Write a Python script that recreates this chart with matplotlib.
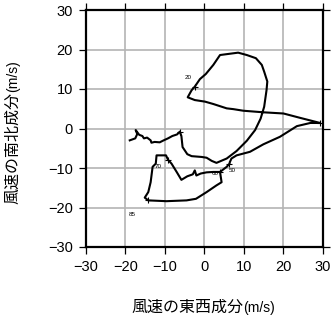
import matplotlib
matplotlib.use("Agg")
import matplotlib.pyplot as plt
import numpy as np

# Hodograph data (u: east-west, v: north-south) in m/s
u = [-18.9, -17.5, -17.0, -17.4, -16.5, -15.7, -15.3, -14.5, -13.6, -13.4, -12.6, -11.3,
     -10.3, -9.2, -8.1, -6.9, -6.2, -5.8, -5.5, -4.3, -3.2, -0.7, 0.6, 1.9, 3.1,
     5.7, 8.2, 10.8, 12.9, 14.3, 15.2, 15.8, 16.0, 15.2, 14.6, 13.1, 10.8, 8.6, 4.0,
     2.3, 0.4, -1.1, -2.4, -3.2, -4.2, -2.4, 0.2, 2.3, 5.7, 7.4, 9.9, 15.0, 20.1,
     24.3, 29.4, 26.9, 23.5, 19.2, 15.0, 11.6, 8.2, 6.9, 6.5, 6.4, 5.7, 4.0,
     2.3, 0.6, -0.9, -2.0, -2.4, -2.9, -4.3, -5.8, -7.0, -8.3, -9.2, -9.7, -12.1,
     -12.3, -13.1, -13.6, -14.2, -15.1, -14.2, -9.6, -4.5, -2.1, 0.6, 3.1, 4.4, 4.0]
v = [-3.0, -2.5, -1.4, -0.4, -1.6, -1.9, -2.5, -2.3, -3.0, -3.6, -3.4, -3.5,
     -3.0, -2.5, -1.9, -1.5, -0.8, -1.9, -4.7, -6.5, -7.0, -7.2, -7.4, -8.2, -8.7,
     -7.6, -5.7, -3.1, -0.4, 2.5, 5.5, 9.7, 11.9, 14.4, 16.1, 17.8, 18.6, 19.2, 18.6,
     16.1, 13.8, 12.5, 10.6, 9.7, 7.9, 7.2, 6.8, 6.2, 5.1, 4.9, 4.5, 4.1, 3.8,
     2.7, 1.4, 1.4, 0.6, -2.1, -4.0, -5.9, -6.8, -7.6, -8.5, -8.9, -9.7, -11.0,
     -11.0, -11.1, -11.4, -11.9, -10.6, -11.6, -12.1, -13.0, -11.0, -8.9, -7.9, -6.8, -6.8,
     -8.9, -9.7, -13.6, -16.1, -17.5, -18.2, -18.4, -18.2, -17.8, -16.1, -14.4, -13.6, -11.0]

# time labels
label_text = ["20", "50", "60", "70", "85"]
label_u = [-4.1, 7.0, 2.7, -11.7, -18.2]
label_v = [12.9, -10.6, -11.4, -9.7, -21.7]

# marked time points (small ticks on the curve)
mark_u = [-6.2, -2.4, 29.4, 6.4, 4.0, -9.2, -14.2]
mark_v = [-0.8, 10.6, 1.4, -8.9, -11.0, -7.9, -18.2]

ticks = [-30, -20, -10, 0, 10, 20, 30]

W, H = 332, 319
fig = plt.figure(figsize=(W / 100, H / 100), dpi=100)
ax = fig.add_axes([86 / W, (H - 247) / H, 236.5 / W, 237 / H])

ax.set_xlim(-30, 30)
ax.set_ylim(-30, 30)
ax.set_xticks(ticks)
ax.set_yticks(ticks)
ax.grid(True, color="#b4b4b4", linewidth=1.2)
ax.set_axisbelow(True)

ax.plot(u, v, color="black", linewidth=1.5, solid_joinstyle="round")
ax.plot(mark_u, mark_v, linestyle="none", marker="+", markersize=4,
        color="black", markeredgewidth=0.8)
for t, x, y in zip(label_text, label_u, label_v):
    ax.text(x, y, t, fontsize=4.5, ha="center", va="center",
            family="Liberation Sans")

for s in ax.spines.values():
    s.set_linewidth(1.6)
    s.set_color("black")
ax.tick_params(direction="out", length=5, width=0.9, top=True, right=True,
               labelsize=10.5, pad=4.5)
for lab in ax.get_xticklabels() + ax.get_yticklabels():
    lab.set_family("Liberation Sans")

jp = ["Noto Sans CJK JP", "DejaVu Sans"]
fig.canvas.draw()
r = fig.canvas.get_renderer()

def width_px(s, size, fam):
    t = fig.text(0, 0, s, fontsize=size, family=fam)
    w = t.get_window_extent(r).width
    t.remove()
    return w

w1 = width_px("風速の東西成分", 11.5, jp)
w2 = width_px("(m/s)", 10, ["Liberation Sans"])
cx = 203
x0 = cx - (w1 + w2) / 2
yb = H - 312
fig.text(x0 / W, yb / H, "風速の東西成分", fontsize=11.5, family=jp,
         ha="left", va="baseline")
fig.text((x0 + w1) / W, yb / H, "(m/s)", fontsize=10, family="Liberation Sans",
         ha="left", va="baseline")

w1y = width_px("風速の南北成分", 11.5, jp)
cy = H - 132.5
y0 = cy - (w1y + w2) / 2
xb = 17
fig.text(xb / W, y0 / H, "風速の南北成分", fontsize=11.5, family=jp,
         rotation=90, rotation_mode="anchor", ha="left", va="baseline")
fig.text(xb / W, (y0 + w1y) / H, "(m/s)", fontsize=10, family="Liberation Sans",
         rotation=90, rotation_mode="anchor", ha="left", va="baseline")

fig.savefig("out.png", dpi=100)
